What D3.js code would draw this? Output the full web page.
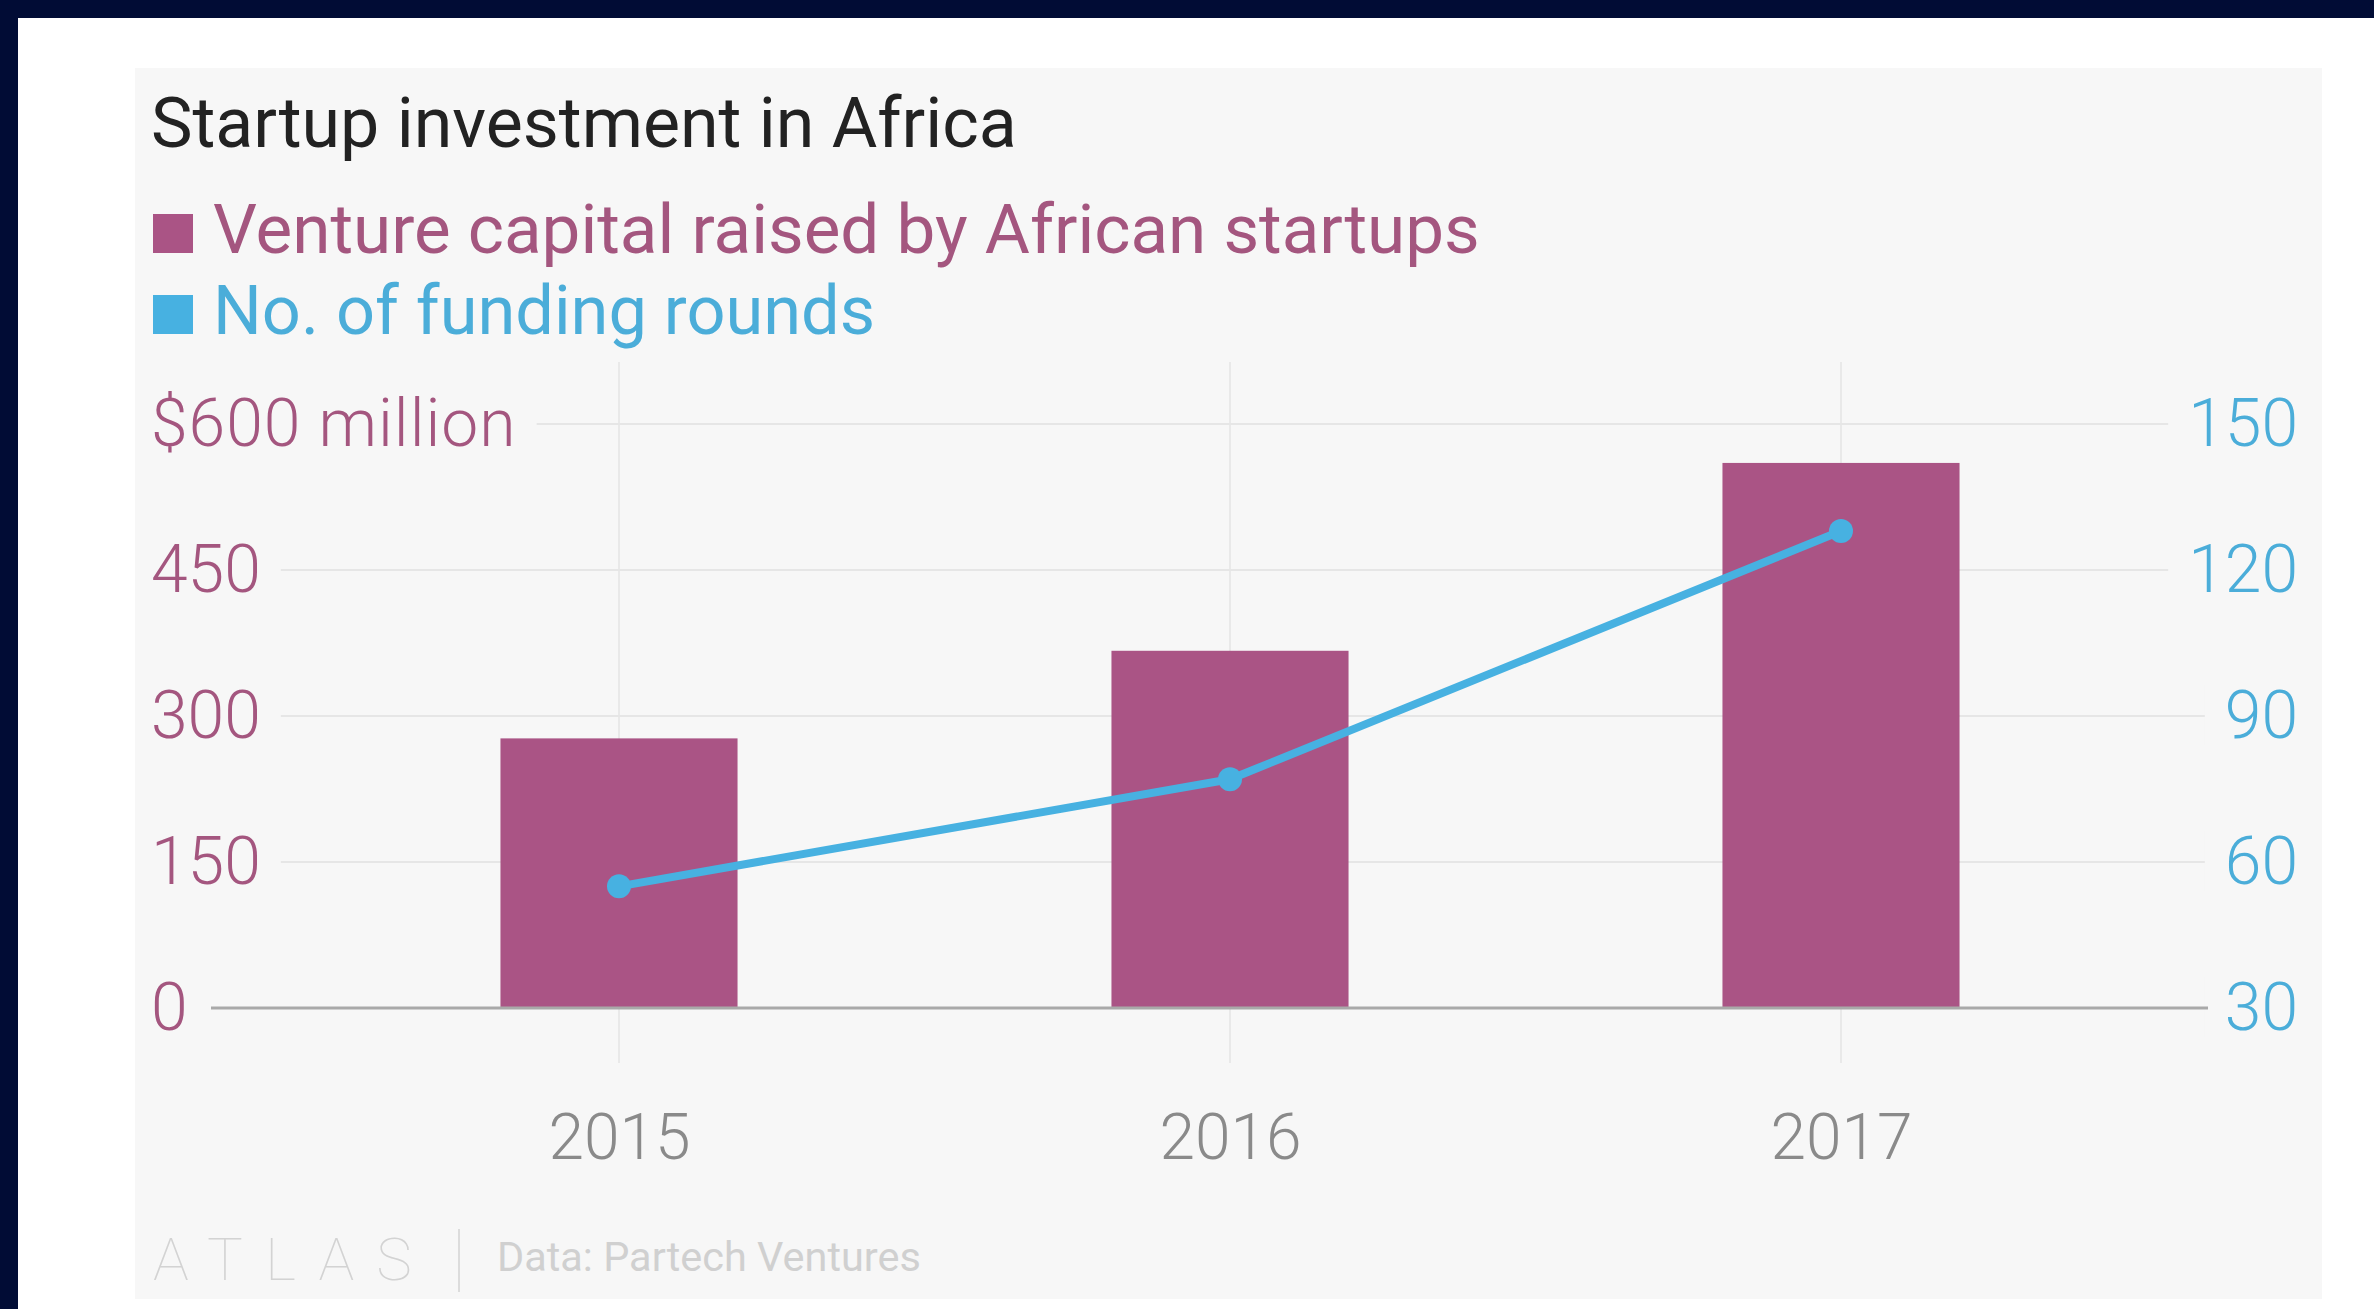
<!DOCTYPE html>
<html><head><meta charset="utf-8">
<script src="https://cdn.jsdelivr.net/npm/d3@7"></script>
<style>body{margin:0;background:#fff;} svg{display:block;}</style>
</head><body><svg id="c" width="2374" height="1309"></svg>
<script>
// ---- data ----
const years = ["2015", "2016", "2017"];
const ventureCapital = [277, 367, 560];      // $ million
const fundingRounds = [55, 77, 128];         // number of rounds
const leftTicks = [0, 150, 300, 450, 600];
const rightTicks = [30, 60, 90, 120, 150];
const titleText = "Startup investment in Africa";
const seriesNames = ["Venture capital raised by African startups", "No. of funding rounds"];
const sourceText = "Data: Partech Ventures";
const logoText = "ATLAS";

// ---- style ----
const pink = "#aa5485", blue = "#47b1e1";
const pinkText = "#a4567f", blueText = "#4badd9";
const panelBg = "#f7f7f7";
const FONT = "Roboto, 'Noto Sans', sans-serif";

const svg = d3.select("#c");
svg.append("rect").attr("x",0).attr("y",0).attr("width",2374).attr("height",1309).attr("fill","#fff");
svg.append("rect").attr("x",135).attr("y",68).attr("width",2187).attr("height",1231).attr("fill",panelBg);
svg.append("rect").attr("x",0).attr("y",0).attr("width",2374).attr("height",18).attr("fill","#010c35");
svg.append("rect").attr("x",0).attr("y",0).attr("width",18).attr("height",1309).attr("fill","#010c35");

function fit(sel, target){
  const base = parseFloat(sel.attr("font-size"));
  const len = sel.node().getComputedTextLength();
  sel.attr("font-size", (base*target/len).toFixed(2));
}

// title and legend
const t = svg.append("text").attr("x",151).attr("y",147).attr("font-family",FONT)
  .attr("font-size",68).attr("fill","#222").text(titleText);
fit(t, 866);

const legendColors = [pink, blue], legendText = [pinkText, blueText];
const legendY = [253, 334], legendW = [1267, 662];
seriesNames.forEach((n,i)=>{
  svg.append("rect").attr("x",153).attr("y",legendY[i]-39).attr("width",40).attr("height",39).attr("fill",legendColors[i]);
  const lt = svg.append("text").attr("x",213).attr("y",legendY[i]).attr("font-family",FONT)
    .attr("font-size",68).attr("fill",legendText[i]).text(n);
  fit(lt, legendW[i]);
});

// scales
const yL = d3.scaleLinear().domain([0,600]).range([1008,424]);
const yR = d3.scaleLinear().domain([30,150]).range([1008,424]);
const x = d3.scalePoint().domain(years).range([619,1841]);
const barW = x.step()*0.388;
const plotL = 211, plotR = 2208;

// vertical gridlines
svg.append("g").selectAll("line").data(years).join("line")
  .attr("x1",d=>x(d)).attr("x2",d=>x(d)).attr("y1",362).attr("y2",1063)
  .attr("stroke","#e9e9e9").attr("stroke-width",2);

// horizontal gridlines
svg.append("g").selectAll("line").data(leftTicks.slice(1)).join("line")
  .attr("x1",plotL).attr("x2",plotR).attr("y1",d=>yL(d)).attr("y2",d=>yL(d))
  .attr("stroke","#e6e6e6").attr("stroke-width",2);

// left axis labels
const gL = svg.append("g").attr("transform","translate(151,0)")
  .call(d3.axisRight(yL).tickValues(leftTicks).tickSize(0).tickPadding(0)
    .tickFormat(d=> d===600 ? "$600 million" : d));
gL.select(".domain").remove();
gL.selectAll("text").attr("font-family",FONT).attr("font-size",66).attr("font-weight",300)
  .attr("fill",pinkText);
gL.selectAll(".tick").filter(d=>d===600).select("text").attr("letter-spacing",1);

// right axis labels
const gR = svg.append("g").attr("transform","translate(2298,0)")
  .call(d3.axisLeft(yR).tickValues(rightTicks).tickSize(0).tickPadding(0));
gR.select(".domain").remove();
gR.selectAll("text").attr("font-family",FONT).attr("font-size",66).attr("font-weight",300)
  .attr("fill",blueText);

// label backgrounds to break gridlines
[gL, gR].forEach(g=>{
  g.selectAll(".tick").each(function(){
    const tk = d3.select(this);
    const bb = tk.select("text").node().getBBox();
    tk.insert("rect","text").attr("x",bb.x-4).attr("y",bb.y+8).attr("width",bb.width+24)
      .attr("height",bb.height-16).attr("fill",panelBg)
      .attr("transform", g===gR ? "translate(-16,0)" : null);
  });
});

// bars
svg.append("g").selectAll("rect").data(years).join("rect")
  .attr("x",d=>x(d)-barW/2).attr("width",barW)
  .attr("y",(d,i)=>yL(ventureCapital[i])).attr("height",(d,i)=>yL(0)-yL(ventureCapital[i]))
  .attr("fill",pink);

// baseline
svg.append("line").attr("x1",plotL).attr("x2",plotR).attr("y1",yL(0)).attr("y2",yL(0))
  .attr("stroke","#a9a9a9").attr("stroke-width",3);

// x axis labels
const gX = svg.append("g").attr("transform",`translate(0,${yL(0)})`)
  .call(d3.axisBottom(x).tickSize(0).tickPadding(106));
gX.select(".domain").remove();
gX.selectAll("text").attr("font-family",FONT).attr("font-size",64).attr("font-weight",300)
  .attr("fill","#8a8a8a");

// line
const pts = years.map((y,i)=>[x(y), yR(fundingRounds[i])]);
svg.append("path").attr("d", d3.line()(pts)).attr("fill","none").attr("stroke",blue)
  .attr("stroke-width",8).attr("stroke-linejoin","round").attr("stroke-linecap","round");
svg.append("g").selectAll("circle").data(pts).join("circle")
  .attr("cx",d=>d[0]).attr("cy",d=>d[1]).attr("r",12).attr("fill",blue);

// footer
svg.append("text").attr("x",153).attr("y",1280).attr("font-family",FONT).attr("font-size",60)
  .attr("font-weight",100).attr("letter-spacing",22).attr("fill","#d3d3d3").text(logoText);
svg.append("line").attr("x1",459).attr("x2",459).attr("y1",1229).attr("y2",1292)
  .attr("stroke","#dcdcdc").attr("stroke-width",2);
const src = svg.append("text").attr("x",497).attr("y",1271).attr("font-family",FONT).attr("font-size",42)
  .attr("fill","#d0d0d0").text(sourceText);
fit(src, 424);
</script></body></html>
